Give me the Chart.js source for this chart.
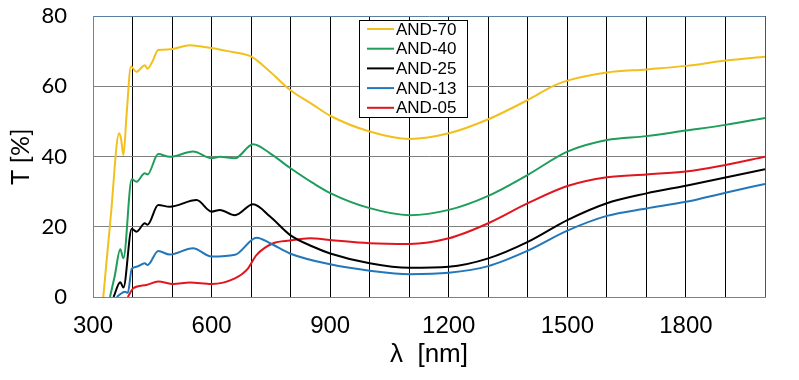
<!DOCTYPE html>
<html lang="ja">
<head>
  <meta charset="UTF-8">
  <title>AND transmittance</title>
  <script src="https://cdn.jsdelivr.net/npm/chart.js"></script>
  <style>
    body { margin: 0; background: #fff; }
    canvas { display: block; }
  </style>
</head>
<body>
  <canvas id="chart" width="799" height="380"></canvas>

  <script>
    // wavelength [nm] / transmittance [%]
    const wl70 = [326, 345, 366, 371, 377, 385, 396, 410, 431, 438, 450, 465, 494, 545, 570, 604, 640, 672, 701, 748, 798, 857, 900, 1000, 1100, 1200, 1300, 1400, 1465, 1500, 1600, 1700, 1800, 1900, 2000];
    const t70  = [0, 23, 46.6, 45, 40.4, 52, 65.6, 64.1, 66, 65, 67, 70.3, 70.5, 71.7, 71.4, 70.8, 70, 69.4, 68.4, 64.1, 59, 54.7, 51.6, 47.1, 45.0, 46.6, 50.6, 56.1, 60.1, 61.6, 63.9, 64.8, 65.8, 67.3, 68.4];

    const wl40 = [343, 355, 369, 377, 398, 410, 431, 438, 465, 494, 553, 600, 621, 659, 705, 748, 798, 857, 900, 1000, 1100, 1200, 1300, 1400, 1500, 1600, 1700, 1800, 1900, 2000];
    const t40  = [0, 6, 13.6, 11, 33.5, 32.8, 35.2, 34.9, 40.7, 39.9, 41.4, 39.5, 39.9, 39.5, 43.5, 40.9, 36.8, 32.4, 29.6, 25.3, 23.3, 24.8, 28.8, 34.8, 41.4, 44.7, 45.8, 47.4, 49.0, 51.0];

    const wl25 = [352, 369, 377, 398, 410, 431, 438, 465, 494, 562, 600, 621, 659, 705, 748, 798, 857, 900, 1000, 1100, 1200, 1300, 1400, 1500, 1600, 1700, 1800, 1900, 2000];
    const t25  = [0, 4.2, 2.7, 19.4, 18.6, 21.0, 20.6, 26.2, 25.7, 27.6, 24.3, 24.8, 23.3, 26.4, 22.9, 17.7, 14.3, 12.4, 9.6, 8.3, 8.6, 11.0, 15.7, 21.9, 26.7, 29.5, 31.7, 34.0, 36.4];

    const wl13 = [360, 381, 388, 398, 410, 431, 438, 465, 494, 553, 600, 659, 714, 748, 798, 900, 1000, 1100, 1200, 1300, 1400, 1500, 1600, 1700, 1800, 1900, 2000];
    const t13  = [0, 1.5, 1.2, 8.0, 8.6, 9.6, 9.1, 13.1, 12.1, 13.9, 11.5, 12.0, 16.9, 15.3, 12.4, 9.3, 7.5, 6.5, 6.9, 8.8, 13.2, 18.9, 23.1, 25.2, 27.1, 29.7, 32.2];

    const wl05 = [388, 402, 435, 465, 503, 545, 600, 659, 689, 714, 756, 798, 849, 900, 1000, 1100, 1200, 1300, 1400, 1500, 1600, 1700, 1800, 1900, 2000];
    const t05  = [0, 2.5, 3.4, 4.4, 3.7, 4.1, 3.7, 5.3, 7.7, 12.0, 15.3, 16.1, 16.7, 16.2, 15.3, 15.1, 16.7, 21.0, 26.7, 31.6, 34.1, 34.9, 35.7, 37.6, 39.9];

    const seriesNames = ['AND-70', 'AND-40', 'AND-25', 'AND-13', 'AND-05'];
    const xLabelTicks = [300, 600, 900, 1200, 1500, 1800];
    const yTicks = [0, 20, 40, 60, 80];

    const colors = ['#F2C01E', '#1E9E5A', '#000000', '#2277BB', '#E0161E'];
    const xs = [wl70, wl40, wl25, wl13, wl05];
    const ys = [t70, t40, t25, t13, t05];

    const datasets = seriesNames.map((name, i) => ({
      label: name,
      data: xs[i].map((w, k) => ({ x: w, y: ys[i][k] })),
      borderColor: colors[i],
      borderWidth: 2,
      pointRadius: 0,
      fill: false,
      cubicInterpolationMode: 'monotone'
    }));

    // legend in a framed white box, inside the plot
    const boxLegend = {
      id: 'boxLegend',
      afterDatasetsDraw(chart) {
        const ctx = chart.ctx;
        ctx.save();
        ctx.fillStyle = '#fff';
        ctx.fillRect(359.5, 20.5, 108, 97);
        ctx.strokeStyle = '#000';
        ctx.lineWidth = 1;
        ctx.strokeRect(359.5, 20.5, 108, 97);
        ctx.font = '17px "Liberation Sans", Arial, sans-serif';
        ctx.textBaseline = 'middle';
        chart.data.datasets.forEach((ds, i) => {
          const y = 29 + i * 19.7;
          ctx.strokeStyle = ds.borderColor;
          ctx.lineWidth = 2;
          ctx.beginPath();
          ctx.moveTo(367, y);
          ctx.lineTo(394, y);
          ctx.stroke();
          ctx.fillStyle = '#000';
          ctx.fillText(ds.label, 396, y + 1);
        });
        ctx.restore();
      }
    };

    new Chart(document.getElementById('chart'), {
      type: 'line',
      data: { datasets },
      plugins: [boxLegend],
      options: {
        responsive: false,
        animation: false,
        devicePixelRatio: 1,
        layout: { padding: { left: 0, right: 34, top: 16, bottom: 0 } },
        plugins: { legend: { display: false }, tooltip: { enabled: false } },
        scales: {
          x: {
            type: 'linear',
            min: 300,
            max: 2000,
            afterFit: s => {
              s.height = 83;
              s.paddingLeft = 0;
              s.paddingRight = 0;
            },
            border: { color: '#808080', width: 1 },
            grid: {
              drawTicks: false,
              lineWidth: 1,
              color: c => c.tick.value === 2000 ? '#2E6070' : (c.tick.value === 300 ? '#808080' : '#000')
            },
            ticks: {
              stepSize: 100,
              autoSkip: false,
              maxRotation: 0,
              padding: 15,
              color: '#000',
              font: { family: '"Liberation Sans", Arial, sans-serif', size: 24 },
              callback: v => xLabelTicks.includes(v) ? v : ''
            },
            title: {
              display: true,
              text: 'λ  [nm]',
              color: '#000',
              font: { family: '"Liberation Sans", Arial, sans-serif', size: 26 },
              padding: { top: 0, bottom: 10 }
            }
          },
          y: {
            min: 0,
            max: 80,
            afterFit: s => {
              s.width = 93;
              s.paddingTop = 0;
              s.paddingBottom = 0;
            },
            afterBuildTicks: s => { s.ticks = yTicks.map(v => ({ value: v })); },
            border: { color: '#808080', width: 1 },
            grid: {
              drawTicks: false,
              lineWidth: 1,
              color: c => c.tick.value === 80 ? '#5B7FA0' : '#808080'
            },
            ticks: {
              padding: 26,
              color: '#000',
              font: { family: 'Lato, sans-serif', size: 22 }
            },
            title: {
              display: true,
              text: 'T [%]',
              color: '#000',
              font: { family: 'Lato, sans-serif', size: 25 },
              padding: { top: 6, bottom: 0 }
            }
          }
        }
      }
    });
  </script>
</body>
</html>
